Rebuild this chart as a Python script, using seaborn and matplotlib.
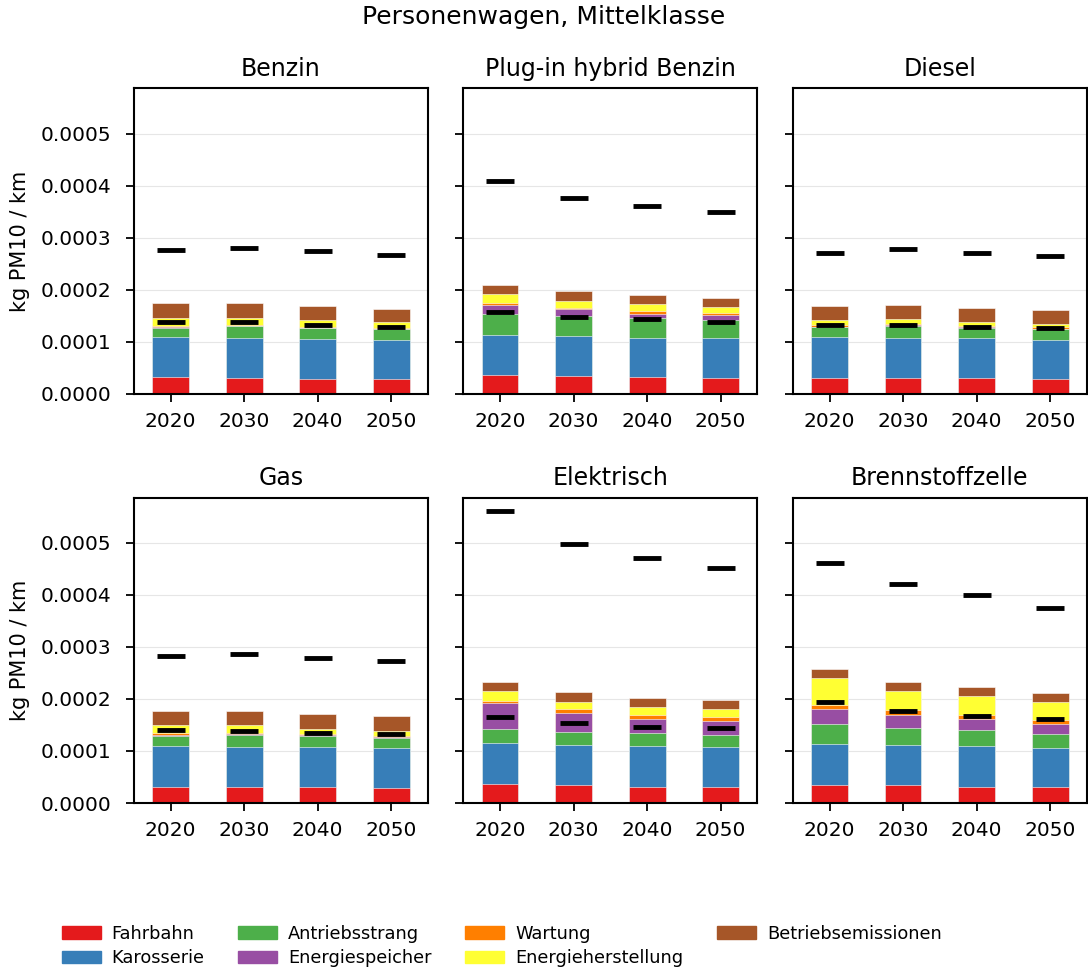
import numpy as np
import pandas as pd
import seaborn as sns
import matplotlib.pyplot as plt

years = ["2020", "2030", "2040", "2050"]
komponenten = ["Fahrbahn", "Karosserie", "Antriebsstrang", "Energiespeicher",
               "Wartung", "Energieherstellung", "Betriebsemissionen"]
antriebe = ["Benzin", "Plug-in hybrid Benzin", "Diesel",
            "Gas", "Elektrisch", "Brennstoffzelle"]

# Beiträge pro Komponente (Einheit 1e-4 kg PM10 / km), Reihenfolge wie komponenten
benzin = [[0.32, 0.31, 0.29, 0.29],
          [0.78, 0.77, 0.77, 0.75],
          [0.17, 0.22, 0.20, 0.20],
          [0.01, 0.01, 0.01, 0.01],
          [0.03, 0.02, 0.02, 0.02],
          [0.15, 0.13, 0.12, 0.11],
          [0.28, 0.28, 0.27, 0.25]]
phev = [[0.36, 0.34, 0.32, 0.31],
        [0.77, 0.77, 0.76, 0.77],
        [0.40, 0.39, 0.38, 0.34],
        [0.17, 0.12, 0.08, 0.09],
        [0.04, 0.02, 0.05, 0.04],
        [0.18, 0.15, 0.13, 0.11],
        [0.18, 0.18, 0.17, 0.19]]
diesel = [[0.31, 0.31, 0.31, 0.29],
          [0.79, 0.77, 0.77, 0.75],
          [0.18, 0.23, 0.19, 0.20],
          [0.01, 0.01, 0.01, 0.01],
          [0.04, 0.03, 0.02, 0.04],
          [0.09, 0.08, 0.08, 0.06],
          [0.27, 0.27, 0.27, 0.26]]
gas = [[0.31, 0.31, 0.30, 0.29],
       [0.79, 0.77, 0.77, 0.76],
       [0.18, 0.22, 0.21, 0.20],
       [0.02, 0.02, 0.02, 0.02],
       [0.04, 0.02, 0.02, 0.01],
       [0.16, 0.16, 0.11, 0.11],
       [0.27, 0.27, 0.29, 0.28]]
elektrisch = [[0.36, 0.34, 0.31, 0.30],
              [0.79, 0.77, 0.78, 0.77],
              [0.28, 0.26, 0.25, 0.24],
              [0.49, 0.36, 0.28, 0.27],
              [0.04, 0.08, 0.08, 0.08],
              [0.19, 0.14, 0.15, 0.15],
              [0.18, 0.19, 0.17, 0.17]]
brennstoff = [[0.34, 0.34, 0.31, 0.30],
              [0.80, 0.78, 0.78, 0.76],
              [0.37, 0.33, 0.32, 0.27],
              [0.29, 0.25, 0.21, 0.18],
              [0.08, 0.09, 0.08, 0.09],
              [0.52, 0.37, 0.35, 0.35],
              [0.18, 0.16, 0.18, 0.17]]

# schwarze Striche: untere und obere Werte (1e-4)
low_vals = [[1.38, 1.37, 1.33, 1.29],
            [1.57, 1.48, 1.44, 1.38],
            [1.33, 1.33, 1.29, 1.26],
            [1.41, 1.39, 1.35, 1.32],
            [1.65, 1.54, 1.46, 1.44],
            [1.95, 1.76, 1.68, 1.61]]
high_vals = [[2.76, 2.81, 2.74, 2.67],
             [4.08, 3.77, 3.61, 3.49],
             [2.71, 2.78, 2.71, 2.65],
             [2.82, 2.87, 2.79, 2.72],
             [5.61, 4.98, 4.70, 4.52],
             [4.61, 4.21, 4.00, 3.74]]

alle = [benzin, phev, diesel, gas, elektrisch, brennstoff]

sns.set_style("ticks", {"axes.grid": True, "grid.color": ".9",
                        "axes.edgecolor": "black"})
plt.rcParams["font.family"] = ["DejaVu Sans"]
plt.rcParams["text.color"] = "black"
plt.rcParams["axes.labelcolor"] = "black"
plt.rcParams["xtick.color"] = "black"
plt.rcParams["ytick.color"] = "black"
farben = sns.color_palette("Set1", 7)

fig, axes = plt.subplots(2, 3, figsize=(10.88, 9.71), dpi=100, sharey=True)
fig.subplots_adjust(left=0.123, right=0.999, top=0.909, bottom=0.173,
                    wspace=0.12, hspace=0.34)

for i, ax in enumerate(axes.flat):
    werte = np.array(alle[i]) * 1e-4
    kum = np.cumsum(werte, axis=0)
    # von oben nach unten zeichnen, damit die Stapel sichtbar bleiben
    for k in range(len(komponenten) - 1, -1, -1):
        df = pd.DataFrame({"Jahr": years, "Wert": kum[k]})
        sns.barplot(data=df, x="Jahr", y="Wert", color=farben[k], width=0.5,
                    saturation=1, ax=ax, edgecolor="white", linewidth=0.4,
                    label=komponenten[k])
    ax.plot(range(4), np.array(low_vals[i]) * 1e-4, ls="none", marker="_",
            ms=20, mew=3.5, color="black")
    ax.plot(range(4), np.array(high_vals[i]) * 1e-4, ls="none", marker="_",
            ms=20, mew=3.5, color="black")
    ax.set_xlim(-0.5, 3.5)
    ax.set_ylim(0, 0.000587)
    ax.set_yticks([0, 0.0001, 0.0002, 0.0003, 0.0004, 0.0005])
    ax.set_yticklabels(["0.0000", "0.0001", "0.0002", "0.0003", "0.0004", "0.0005"])
    ax.grid(axis="x", visible=False)
    ax.set_axisbelow(True)
    ax.set_title(antriebe[i], fontsize=17, pad=9)
    ax.set_xlabel("")
    ax.set_ylabel("kg PM10 / km" if i % 3 == 0 else "", fontsize=15, labelpad=8)
    ax.tick_params(labelsize=14.5, width=1.3, length=6)
    ax.tick_params(axis="x", pad=7)
    ax.tick_params(axis="y", pad=10)
    for s in ax.spines.values():
        s.set_linewidth(1.5)
    if ax.get_legend() is not None:
        ax.get_legend().remove()

fig.suptitle("Personenwagen, Mittelklasse", fontsize=18, y=0.995)

handles = [plt.Rectangle((0, 0), 1, 1, color=farben[k]) for k in range(7)]
fig.legend(handles, komponenten, loc="upper left", bbox_to_anchor=(0.042, 0.064),
           ncol=4, frameon=False, fontsize=12.8, handlelength=2.2,
           handletextpad=0.6, columnspacing=1.9, labelspacing=0.35)

plt.savefig("out.png", dpi=100)
